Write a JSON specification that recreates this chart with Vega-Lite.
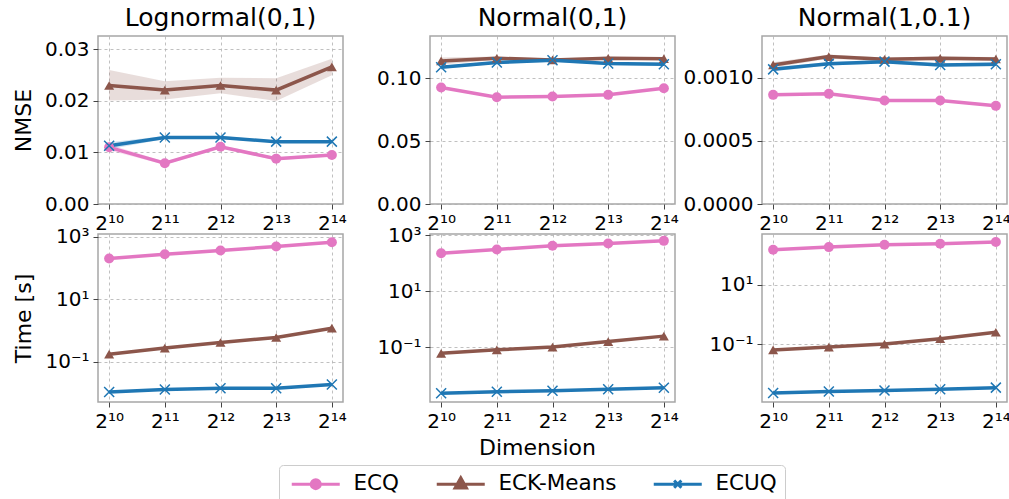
{
  "$schema": "https://vega.github.io/schema/vega-lite/v6.json",
  "padding": {"left": 11, "top": 5, "right": 0, "bottom": 0},
  "background": "white",
  "bounds": "flush",
  "columns": 3,
  "spacing": {"row": 30, "column": 87},
  "datasets": {
    "d": [
      {"dist": "Lognormal(0,1)", "metric": "NMSE", "method": "ECQ", "exp": 10, "value": 0.0110, "lo": 0.0104, "hi": 0.0116},
      {"dist": "Lognormal(0,1)", "metric": "NMSE", "method": "ECQ", "exp": 11, "value": 0.0079, "lo": 0.0076, "hi": 0.0082},
      {"dist": "Lognormal(0,1)", "metric": "NMSE", "method": "ECQ", "exp": 12, "value": 0.0111, "lo": 0.0108, "hi": 0.0114},
      {"dist": "Lognormal(0,1)", "metric": "NMSE", "method": "ECQ", "exp": 13, "value": 0.0088, "lo": 0.0085, "hi": 0.0091},
      {"dist": "Lognormal(0,1)", "metric": "NMSE", "method": "ECQ", "exp": 14, "value": 0.0095, "lo": 0.0092, "hi": 0.0098},
      {"dist": "Lognormal(0,1)", "metric": "NMSE", "method": "ECK-Means", "exp": 10, "value": 0.0230, "lo": 0.0201, "hi": 0.0260},
      {"dist": "Lognormal(0,1)", "metric": "NMSE", "method": "ECK-Means", "exp": 11, "value": 0.0221, "lo": 0.0203, "hi": 0.0238},
      {"dist": "Lognormal(0,1)", "metric": "NMSE", "method": "ECK-Means", "exp": 12, "value": 0.0230, "lo": 0.0215, "hi": 0.0245},
      {"dist": "Lognormal(0,1)", "metric": "NMSE", "method": "ECK-Means", "exp": 13, "value": 0.0221, "lo": 0.0200, "hi": 0.0244},
      {"dist": "Lognormal(0,1)", "metric": "NMSE", "method": "ECK-Means", "exp": 14, "value": 0.0266, "lo": 0.0250, "hi": 0.0282},
      {"dist": "Lognormal(0,1)", "metric": "NMSE", "method": "ECUQ", "exp": 10, "value": 0.0113, "lo": 0.0106, "hi": 0.0120},
      {"dist": "Lognormal(0,1)", "metric": "NMSE", "method": "ECUQ", "exp": 11, "value": 0.0129, "lo": 0.0126, "hi": 0.0132},
      {"dist": "Lognormal(0,1)", "metric": "NMSE", "method": "ECUQ", "exp": 12, "value": 0.0129, "lo": 0.0126, "hi": 0.0132},
      {"dist": "Lognormal(0,1)", "metric": "NMSE", "method": "ECUQ", "exp": 13, "value": 0.0121, "lo": 0.0119, "hi": 0.0123},
      {"dist": "Lognormal(0,1)", "metric": "NMSE", "method": "ECUQ", "exp": 14, "value": 0.0121, "lo": 0.0119, "hi": 0.0123},

      {"dist": "Normal(0,1)", "metric": "NMSE", "method": "ECQ", "exp": 10, "value": 0.0926, "lo": 0.0921, "hi": 0.0931},
      {"dist": "Normal(0,1)", "metric": "NMSE", "method": "ECQ", "exp": 11, "value": 0.0849, "lo": 0.0844, "hi": 0.0854},
      {"dist": "Normal(0,1)", "metric": "NMSE", "method": "ECQ", "exp": 12, "value": 0.0855, "lo": 0.0850, "hi": 0.0860},
      {"dist": "Normal(0,1)", "metric": "NMSE", "method": "ECQ", "exp": 13, "value": 0.0868, "lo": 0.0863, "hi": 0.0873},
      {"dist": "Normal(0,1)", "metric": "NMSE", "method": "ECQ", "exp": 14, "value": 0.0921, "lo": 0.0916, "hi": 0.0926},
      {"dist": "Normal(0,1)", "metric": "NMSE", "method": "ECK-Means", "exp": 10, "value": 0.1138, "lo": 0.1110, "hi": 0.1166},
      {"dist": "Normal(0,1)", "metric": "NMSE", "method": "ECK-Means", "exp": 11, "value": 0.1159, "lo": 0.1145, "hi": 0.1173},
      {"dist": "Normal(0,1)", "metric": "NMSE", "method": "ECK-Means", "exp": 12, "value": 0.1146, "lo": 0.1135, "hi": 0.1157},
      {"dist": "Normal(0,1)", "metric": "NMSE", "method": "ECK-Means", "exp": 13, "value": 0.1159, "lo": 0.1148, "hi": 0.1170},
      {"dist": "Normal(0,1)", "metric": "NMSE", "method": "ECK-Means", "exp": 14, "value": 0.1156, "lo": 0.1145, "hi": 0.1167},
      {"dist": "Normal(0,1)", "metric": "NMSE", "method": "ECUQ", "exp": 10, "value": 0.1087, "lo": 0.1075, "hi": 0.1099},
      {"dist": "Normal(0,1)", "metric": "NMSE", "method": "ECUQ", "exp": 11, "value": 0.1125, "lo": 0.1113, "hi": 0.1137},
      {"dist": "Normal(0,1)", "metric": "NMSE", "method": "ECUQ", "exp": 12, "value": 0.1143, "lo": 0.1131, "hi": 0.1155},
      {"dist": "Normal(0,1)", "metric": "NMSE", "method": "ECUQ", "exp": 13, "value": 0.1117, "lo": 0.1105, "hi": 0.1129},
      {"dist": "Normal(0,1)", "metric": "NMSE", "method": "ECUQ", "exp": 14, "value": 0.1111, "lo": 0.1097, "hi": 0.1125},

      {"dist": "Normal(1,0.1)", "metric": "NMSE", "method": "ECQ", "exp": 10, "value": 0.000864, "lo": 0.000858, "hi": 0.000870},
      {"dist": "Normal(1,0.1)", "metric": "NMSE", "method": "ECQ", "exp": 11, "value": 0.000872, "lo": 0.000866, "hi": 0.000878},
      {"dist": "Normal(1,0.1)", "metric": "NMSE", "method": "ECQ", "exp": 12, "value": 0.000819, "lo": 0.000813, "hi": 0.000825},
      {"dist": "Normal(1,0.1)", "metric": "NMSE", "method": "ECQ", "exp": 13, "value": 0.000819, "lo": 0.000813, "hi": 0.000825},
      {"dist": "Normal(1,0.1)", "metric": "NMSE", "method": "ECQ", "exp": 14, "value": 0.000777, "lo": 0.000771, "hi": 0.000783},
      {"dist": "Normal(1,0.1)", "metric": "NMSE", "method": "ECK-Means", "exp": 10, "value": 0.001101, "lo": 0.001080, "hi": 0.001122},
      {"dist": "Normal(1,0.1)", "metric": "NMSE", "method": "ECK-Means", "exp": 11, "value": 0.001167, "lo": 0.001150, "hi": 0.001184},
      {"dist": "Normal(1,0.1)", "metric": "NMSE", "method": "ECK-Means", "exp": 12, "value": 0.001145, "lo": 0.001130, "hi": 0.001160},
      {"dist": "Normal(1,0.1)", "metric": "NMSE", "method": "ECK-Means", "exp": 13, "value": 0.001153, "lo": 0.001138, "hi": 0.001168},
      {"dist": "Normal(1,0.1)", "metric": "NMSE", "method": "ECK-Means", "exp": 14, "value": 0.001148, "lo": 0.001133, "hi": 0.001163},
      {"dist": "Normal(1,0.1)", "metric": "NMSE", "method": "ECUQ", "exp": 10, "value": 0.001066, "lo": 0.001050, "hi": 0.001082},
      {"dist": "Normal(1,0.1)", "metric": "NMSE", "method": "ECUQ", "exp": 11, "value": 0.001111, "lo": 0.001097, "hi": 0.001125},
      {"dist": "Normal(1,0.1)", "metric": "NMSE", "method": "ECUQ", "exp": 12, "value": 0.001127, "lo": 0.001113, "hi": 0.001141},
      {"dist": "Normal(1,0.1)", "metric": "NMSE", "method": "ECUQ", "exp": 13, "value": 0.001101, "lo": 0.001087, "hi": 0.001115},
      {"dist": "Normal(1,0.1)", "metric": "NMSE", "method": "ECUQ", "exp": 14, "value": 0.001106, "lo": 0.001090, "hi": 0.001122},

      {"dist": "Lognormal(0,1)", "metric": "Time", "method": "ECQ", "exp": 10, "value": 199},
      {"dist": "Lognormal(0,1)", "metric": "Time", "method": "ECQ", "exp": 11, "value": 270},
      {"dist": "Lognormal(0,1)", "metric": "Time", "method": "ECQ", "exp": 12, "value": 357},
      {"dist": "Lognormal(0,1)", "metric": "Time", "method": "ECQ", "exp": 13, "value": 480},
      {"dist": "Lognormal(0,1)", "metric": "Time", "method": "ECQ", "exp": 14, "value": 660},
      {"dist": "Lognormal(0,1)", "metric": "Time", "method": "ECK-Means", "exp": 10, "value": 0.176},
      {"dist": "Lognormal(0,1)", "metric": "Time", "method": "ECK-Means", "exp": 11, "value": 0.275},
      {"dist": "Lognormal(0,1)", "metric": "Time", "method": "ECK-Means", "exp": 12, "value": 0.414},
      {"dist": "Lognormal(0,1)", "metric": "Time", "method": "ECK-Means", "exp": 13, "value": 0.60},
      {"dist": "Lognormal(0,1)", "metric": "Time", "method": "ECK-Means", "exp": 14, "value": 1.19},
      {"dist": "Lognormal(0,1)", "metric": "Time", "method": "ECUQ", "exp": 10, "value": 0.0110},
      {"dist": "Lognormal(0,1)", "metric": "Time", "method": "ECUQ", "exp": 11, "value": 0.0132},
      {"dist": "Lognormal(0,1)", "metric": "Time", "method": "ECUQ", "exp": 12, "value": 0.0144},
      {"dist": "Lognormal(0,1)", "metric": "Time", "method": "ECUQ", "exp": 13, "value": 0.0145},
      {"dist": "Lognormal(0,1)", "metric": "Time", "method": "ECUQ", "exp": 14, "value": 0.0190},

      {"dist": "Normal(0,1)", "metric": "Time", "method": "ECQ", "exp": 10, "value": 225},
      {"dist": "Normal(0,1)", "metric": "Time", "method": "ECQ", "exp": 11, "value": 308},
      {"dist": "Normal(0,1)", "metric": "Time", "method": "ECQ", "exp": 12, "value": 415},
      {"dist": "Normal(0,1)", "metric": "Time", "method": "ECQ", "exp": 13, "value": 500},
      {"dist": "Normal(0,1)", "metric": "Time", "method": "ECQ", "exp": 14, "value": 625},
      {"dist": "Normal(0,1)", "metric": "Time", "method": "ECK-Means", "exp": 10, "value": 0.061},
      {"dist": "Normal(0,1)", "metric": "Time", "method": "ECK-Means", "exp": 11, "value": 0.081},
      {"dist": "Normal(0,1)", "metric": "Time", "method": "ECK-Means", "exp": 12, "value": 0.102},
      {"dist": "Normal(0,1)", "metric": "Time", "method": "ECK-Means", "exp": 13, "value": 0.160},
      {"dist": "Normal(0,1)", "metric": "Time", "method": "ECK-Means", "exp": 14, "value": 0.250},
      {"dist": "Normal(0,1)", "metric": "Time", "method": "ECUQ", "exp": 10, "value": 0.0023},
      {"dist": "Normal(0,1)", "metric": "Time", "method": "ECUQ", "exp": 11, "value": 0.0026},
      {"dist": "Normal(0,1)", "metric": "Time", "method": "ECUQ", "exp": 12, "value": 0.0028},
      {"dist": "Normal(0,1)", "metric": "Time", "method": "ECUQ", "exp": 13, "value": 0.0032},
      {"dist": "Normal(0,1)", "metric": "Time", "method": "ECUQ", "exp": 14, "value": 0.0036},

      {"dist": "Normal(1,0.1)", "metric": "Time", "method": "ECQ", "exp": 10, "value": 151},
      {"dist": "Normal(1,0.1)", "metric": "Time", "method": "ECQ", "exp": 11, "value": 186},
      {"dist": "Normal(1,0.1)", "metric": "Time", "method": "ECQ", "exp": 12, "value": 223},
      {"dist": "Normal(1,0.1)", "metric": "Time", "method": "ECQ", "exp": 13, "value": 241},
      {"dist": "Normal(1,0.1)", "metric": "Time", "method": "ECQ", "exp": 14, "value": 275},
      {"dist": "Normal(1,0.1)", "metric": "Time", "method": "ECK-Means", "exp": 10, "value": 0.065},
      {"dist": "Normal(1,0.1)", "metric": "Time", "method": "ECK-Means", "exp": 11, "value": 0.081},
      {"dist": "Normal(1,0.1)", "metric": "Time", "method": "ECK-Means", "exp": 12, "value": 0.102},
      {"dist": "Normal(1,0.1)", "metric": "Time", "method": "ECK-Means", "exp": 13, "value": 0.154},
      {"dist": "Normal(1,0.1)", "metric": "Time", "method": "ECK-Means", "exp": 14, "value": 0.254},
      {"dist": "Normal(1,0.1)", "metric": "Time", "method": "ECUQ", "exp": 10, "value": 0.0023},
      {"dist": "Normal(1,0.1)", "metric": "Time", "method": "ECUQ", "exp": 11, "value": 0.0026},
      {"dist": "Normal(1,0.1)", "metric": "Time", "method": "ECUQ", "exp": 12, "value": 0.0028},
      {"dist": "Normal(1,0.1)", "metric": "Time", "method": "ECUQ", "exp": 13, "value": 0.0031},
      {"dist": "Normal(1,0.1)", "metric": "Time", "method": "ECUQ", "exp": 14, "value": 0.0035}
    ]
  },
  "data": {"name": "d"},
  "config": {
    "font": "DejaVu Sans",
    "view": {"stroke": "#a6a6a6", "strokeWidth": 1.5},
    "title": {"font": "DejaVu Sans", "fontSize": 25, "fontWeight": "normal", "color": "black", "offset": 5},
    "axis": {
      "labelFont": "DejaVu Sans", "labelFontSize": 20, "labelColor": "black",
      "titleFont": "DejaVu Sans", "titleFontSize": 22, "titleFontWeight": "normal", "titleColor": "black",
      "gridColor": "#b0b0b0", "gridDash": [3, 3], "gridWidth": 0.8,
      "domain": false, "tickColor": "#444", "tickSize": 5, "tickWidth": 1, "labelPadding": 4
    },
    "legend": {"labelFont": "DejaVu Sans", "labelFontSize": 21.5, "labelColor": "black"}
  },
  "concat": [
    {
      "width": 245, "height": 168, "title": "Lognormal(0,1)",
      "transform": [{"filter": "datum.dist=='Lognormal(0,1)' && datum.metric=='NMSE'"}],
      "encoding": {
        "x": {"field": "exp", "type": "quantitative", "scale": {"domain": [9.8, 14.2], "nice": false, "zero": false},
              "axis": {"values": [10, 11, 12, 13, 14], "title": null, "labelExpr": "'2' + (datum.value==10?'¹⁰':datum.value==11?'¹¹':datum.value==12?'¹²':datum.value==13?'¹³':'¹⁴')"}},
        "color": {"field": "method", "type": "nominal", "scale": {"domain": ["ECQ", "ECK-Means", "ECUQ"], "range": ["#e377c2", "#8c564b", "#1f77b4"]},
                  "legend": {"orient": "none", "legendX": 181, "legendY": 429, "direction": "horizontal", "title": null,
                             "symbolSize": 144, "symbolStrokeWidth": 3, "symbolOffset": 18, "labelOffset": 27, "columnPadding": 30,
                             "padding": 8, "strokeColor": "#cccccc", "cornerRadius": 4, "fillColor": "white",
                             "encode": {"symbols": {"update": {
                               "shape": {"signal": "datum.value=='ECQ' ? 'M-4,0H4M0.75,0A0.75,0.75 0 1,1 -0.75,0A0.75,0.75 0 1,1 0.75,0Z' : datum.value=='ECK-Means' ? 'M-4,0H4M0,-1.05L0.95,0.65L-0.95,0.65Z' : 'M-4,0H4M-0.6,-0.6L0.6,0.6M-0.6,0.6L0.6,-0.6'"},
                               "fill": {"signal": "datum.value=='ECQ' ? '#e377c2' : datum.value=='ECK-Means' ? '#8c564b' : '#1f77b4'"},
                               "stroke": {"signal": "datum.value=='ECQ' ? '#e377c2' : datum.value=='ECK-Means' ? '#8c564b' : '#1f77b4'"},
                               "opacity": {"value": 1}}}}}}
      },
      "layer": [
        {"mark": {"type": "area", "opacity": 0.2},
         "encoding": {"y": {"field": "lo", "type": "quantitative", "title": "NMSE", "scale": {"domain": [0, 0.0326], "nice": false, "zero": false},
                            "axis": {"values": [0, 0.01, 0.02, 0.03], "format": ".2f", "titleX": -75, "titleY": 84, "titleBaseline": "middle"}},
                      "y2": {"field": "hi"}}},
        {"mark": {"type": "line", "strokeWidth": 3.5},
         "encoding": {"y": {"field": "value", "type": "quantitative", "title": "NMSE"}}},
        {"transform": [{"filter": "datum.method!='ECUQ'"}],
         "mark": {"type": "point", "filled": true, "opacity": 1, "size": 100},
         "encoding": {"y": {"field": "value", "type": "quantitative", "title": "NMSE"},
                      "shape": {"field": "method", "type": "nominal", "scale": {"domain": ["ECQ", "ECK-Means"], "range": ["circle", "triangle-up"]}, "legend": null}}},
        {"transform": [{"filter": "datum.method=='ECUQ'"}],
         "mark": {"type": "point", "shape": "M-1,-1L1,1M-1,1L1,-1", "filled": false, "opacity": 1, "size": 100, "strokeWidth": 1.5},
         "encoding": {"y": {"field": "value", "type": "quantitative", "title": "NMSE"}}}
      ]
    },
    {
      "width": 245, "height": 168, "title": "Normal(0,1)",
      "transform": [{"filter": "datum.dist=='Normal(0,1)' && datum.metric=='NMSE'"}],
      "encoding": {
        "x": {"field": "exp", "type": "quantitative", "scale": {"domain": [9.8, 14.2], "nice": false, "zero": false},
              "axis": {"values": [10, 11, 12, 13, 14], "title": null, "labelExpr": "'2' + (datum.value==10?'¹⁰':datum.value==11?'¹¹':datum.value==12?'¹²':datum.value==13?'¹³':'¹⁴')"}},
        "color": {"field": "method", "type": "nominal", "scale": {"domain": ["ECQ", "ECK-Means", "ECUQ"], "range": ["#e377c2", "#8c564b", "#1f77b4"]}}
      },
      "layer": [
        {"mark": {"type": "area", "opacity": 0.2},
         "encoding": {"y": {"field": "lo", "type": "quantitative", "title": null, "scale": {"domain": [0, 0.1336], "nice": false, "zero": false},
                            "axis": {"values": [0, 0.05, 0.10], "format": ".2f"}},
                      "y2": {"field": "hi"}}},
        {"mark": {"type": "line", "strokeWidth": 3.5},
         "encoding": {"y": {"field": "value", "type": "quantitative", "title": null}}},
        {"transform": [{"filter": "datum.method!='ECUQ'"}],
         "mark": {"type": "point", "filled": true, "opacity": 1, "size": 100},
         "encoding": {"y": {"field": "value", "type": "quantitative", "title": null},
                      "shape": {"field": "method", "type": "nominal", "scale": {"domain": ["ECQ", "ECK-Means"], "range": ["circle", "triangle-up"]}, "legend": null}}},
        {"transform": [{"filter": "datum.method=='ECUQ'"}],
         "mark": {"type": "point", "shape": "M-1,-1L1,1M-1,1L1,-1", "filled": false, "opacity": 1, "size": 100, "strokeWidth": 1.5},
         "encoding": {"y": {"field": "value", "type": "quantitative", "title": null}}}
      ]
    },
    {
      "width": 245, "height": 168, "title": "Normal(1,0.1)",
      "transform": [{"filter": "datum.dist=='Normal(1,0.1)' && datum.metric=='NMSE'"}],
      "encoding": {
        "x": {"field": "exp", "type": "quantitative", "scale": {"domain": [9.8, 14.2], "nice": false, "zero": false},
              "axis": {"values": [10, 11, 12, 13, 14], "title": null, "labelExpr": "'2' + (datum.value==10?'¹⁰':datum.value==11?'¹¹':datum.value==12?'¹²':datum.value==13?'¹³':'¹⁴')"}},
        "color": {"field": "method", "type": "nominal", "scale": {"domain": ["ECQ", "ECK-Means", "ECUQ"], "range": ["#e377c2", "#8c564b", "#1f77b4"]}}
      },
      "layer": [
        {"mark": {"type": "area", "opacity": 0.2},
         "encoding": {"y": {"field": "lo", "type": "quantitative", "title": null, "scale": {"domain": [0, 0.00133], "nice": false, "zero": false},
                            "axis": {"values": [0, 0.0005, 0.0010], "format": ".4f"}},
                      "y2": {"field": "hi"}}},
        {"mark": {"type": "line", "strokeWidth": 3.5},
         "encoding": {"y": {"field": "value", "type": "quantitative", "title": null}}},
        {"transform": [{"filter": "datum.method!='ECUQ'"}],
         "mark": {"type": "point", "filled": true, "opacity": 1, "size": 100},
         "encoding": {"y": {"field": "value", "type": "quantitative", "title": null},
                      "shape": {"field": "method", "type": "nominal", "scale": {"domain": ["ECQ", "ECK-Means"], "range": ["circle", "triangle-up"]}, "legend": null}}},
        {"transform": [{"filter": "datum.method=='ECUQ'"}],
         "mark": {"type": "point", "shape": "M-1,-1L1,1M-1,1L1,-1", "filled": false, "opacity": 1, "size": 100, "strokeWidth": 1.5},
         "encoding": {"y": {"field": "value", "type": "quantitative", "title": null}}}
      ]
    },
    {
      "width": 245, "height": 168,
      "transform": [{"filter": "datum.dist=='Lognormal(0,1)' && datum.metric=='Time'"}],
      "encoding": {
        "x": {"field": "exp", "type": "quantitative", "scale": {"domain": [9.8, 14.2], "nice": false, "zero": false},
              "axis": {"values": [10, 11, 12, 13, 14], "title": null, "labelExpr": "'2' + (datum.value==10?'¹⁰':datum.value==11?'¹¹':datum.value==12?'¹²':datum.value==13?'¹³':'¹⁴')"}},
        "color": {"field": "method", "type": "nominal", "scale": {"domain": ["ECQ", "ECK-Means", "ECUQ"], "range": ["#e377c2", "#8c564b", "#1f77b4"]}}
      },
      "layer": [
        {"mark": {"type": "line", "strokeWidth": 3.5},
         "encoding": {"y": {"field": "value", "type": "quantitative", "title": "Time [s]", "scale": {"type": "log", "domain": [0.00525, 1202], "nice": false},
                            "axis": {"values": [0.1, 10, 1000], "labelExpr": "datum.value==1000?'10³':datum.value==10?'10¹':'10⁻¹'", "titleX": -75, "titleY": 84, "titleBaseline": "middle"}}}},
        {"transform": [{"filter": "datum.method!='ECUQ'"}],
         "mark": {"type": "point", "filled": true, "opacity": 1, "size": 100},
         "encoding": {"y": {"field": "value", "type": "quantitative", "title": "Time [s]"},
                      "shape": {"field": "method", "type": "nominal", "scale": {"domain": ["ECQ", "ECK-Means"], "range": ["circle", "triangle-up"]}, "legend": null}}},
        {"transform": [{"filter": "datum.method=='ECUQ'"}],
         "mark": {"type": "point", "shape": "M-1,-1L1,1M-1,1L1,-1", "filled": false, "opacity": 1, "size": 100, "strokeWidth": 1.5},
         "encoding": {"y": {"field": "value", "type": "quantitative", "title": "Time [s]"}}}
      ]
    },
    {
      "width": 245, "height": 168,
      "transform": [{"filter": "datum.dist=='Normal(0,1)' && datum.metric=='Time'"}],
      "encoding": {
        "x": {"field": "exp", "type": "quantitative", "scale": {"domain": [9.8, 14.2], "nice": false, "zero": false},
              "axis": {"values": [10, 11, 12, 13, 14], "title": "Dimension", "titleX": 107, "titlePadding": 6, "labelExpr": "'2' + (datum.value==10?'¹⁰':datum.value==11?'¹¹':datum.value==12?'¹²':datum.value==13?'¹³':'¹⁴')"}},
        "color": {"field": "method", "type": "nominal", "scale": {"domain": ["ECQ", "ECK-Means", "ECUQ"], "range": ["#e377c2", "#8c564b", "#1f77b4"]}}
      },
      "layer": [
        {"mark": {"type": "line", "strokeWidth": 3.5},
         "encoding": {"y": {"field": "value", "type": "quantitative", "title": null, "scale": {"type": "log", "domain": [0.00112, 1096], "nice": false},
                            "axis": {"values": [0.1, 10, 1000], "labelExpr": "datum.value==1000?'10³':datum.value==10?'10¹':'10⁻¹'"}}}},
        {"transform": [{"filter": "datum.method!='ECUQ'"}],
         "mark": {"type": "point", "filled": true, "opacity": 1, "size": 100},
         "encoding": {"y": {"field": "value", "type": "quantitative", "title": null},
                      "shape": {"field": "method", "type": "nominal", "scale": {"domain": ["ECQ", "ECK-Means"], "range": ["circle", "triangle-up"]}, "legend": null}}},
        {"transform": [{"filter": "datum.method=='ECUQ'"}],
         "mark": {"type": "point", "shape": "M-1,-1L1,1M-1,1L1,-1", "filled": false, "opacity": 1, "size": 100, "strokeWidth": 1.5},
         "encoding": {"y": {"field": "value", "type": "quantitative", "title": null}}}
      ]
    },
    {
      "width": 245, "height": 168,
      "transform": [{"filter": "datum.dist=='Normal(1,0.1)' && datum.metric=='Time'"}],
      "encoding": {
        "x": {"field": "exp", "type": "quantitative", "scale": {"domain": [9.8, 14.2], "nice": false, "zero": false},
              "axis": {"values": [10, 11, 12, 13, 14], "title": null, "labelExpr": "'2' + (datum.value==10?'¹⁰':datum.value==11?'¹¹':datum.value==12?'¹²':datum.value==13?'¹³':'¹⁴')"}},
        "color": {"field": "method", "type": "nominal", "scale": {"domain": ["ECQ", "ECK-Means", "ECUQ"], "range": ["#e377c2", "#8c564b", "#1f77b4"]}}
      },
      "layer": [
        {"mark": {"type": "line", "strokeWidth": 3.5},
         "encoding": {"y": {"field": "value", "type": "quantitative", "title": null, "scale": {"type": "log", "domain": [0.00115, 513], "nice": false},
                            "axis": {"values": [0.1, 10], "labelExpr": "datum.value==10?'10¹':'10⁻¹'"}}}},
        {"transform": [{"filter": "datum.method!='ECUQ'"}],
         "mark": {"type": "point", "filled": true, "opacity": 1, "size": 100},
         "encoding": {"y": {"field": "value", "type": "quantitative", "title": null},
                      "shape": {"field": "method", "type": "nominal", "scale": {"domain": ["ECQ", "ECK-Means"], "range": ["circle", "triangle-up"]}, "legend": null}}},
        {"transform": [{"filter": "datum.method=='ECUQ'"}],
         "mark": {"type": "point", "shape": "M-1,-1L1,1M-1,1L1,-1", "filled": false, "opacity": 1, "size": 100, "strokeWidth": 1.5},
         "encoding": {"y": {"field": "value", "type": "quantitative", "title": null}}}
      ]
    }
  ]
}
